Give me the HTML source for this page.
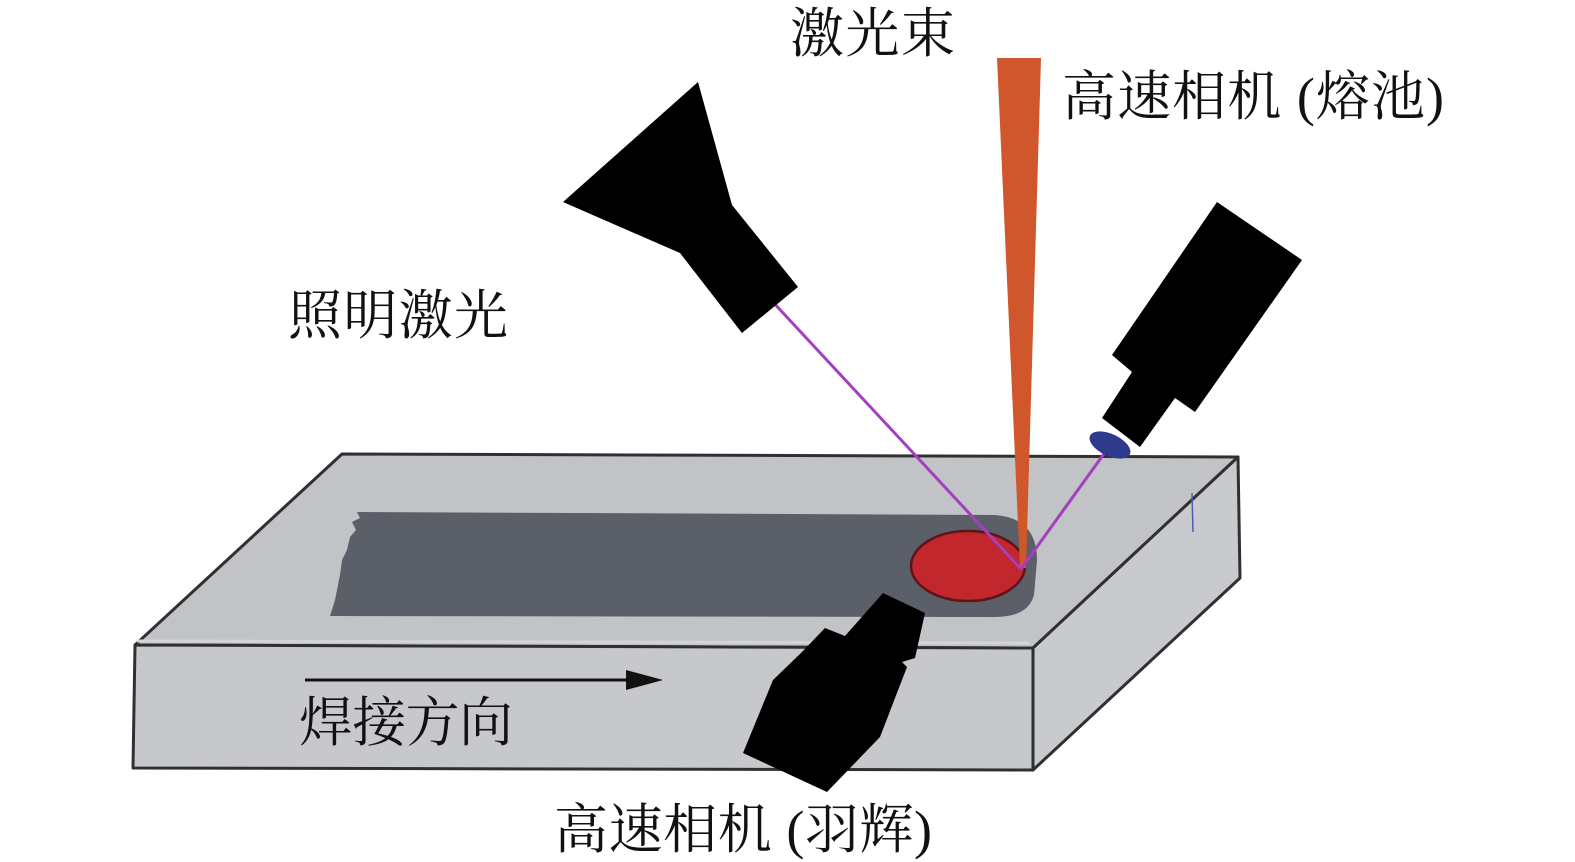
<!DOCTYPE html>
<html>
<head>
<meta charset="utf-8">
<style>
html,body{margin:0;padding:0;background:#fff;}
svg{display:block;}
text{font-family:"Liberation Serif","Noto Serif CJK SC",serif;fill:#111;}
</style>
</head>
<body>
<svg width="1575" height="862" viewBox="0 0 1575 862" xmlns="http://www.w3.org/2000/svg">
  <!-- Plate -->
  <polygon points="342,454 1238,457 1033,648 135,645" fill="#c2c3c6" stroke="#2f3032" stroke-width="3" stroke-linejoin="round"/>
  <polygon points="135,645 1033,648 1033,770 133,768" fill="#c7c8cb" stroke="#2f3032" stroke-width="3" stroke-linejoin="round"/>
  <polygon points="1033,648 1238,457 1240,578 1033,770" fill="#c9cacd" stroke="#2f3032" stroke-width="3" stroke-linejoin="round"/>
  <line x1="137" y1="641" x2="1030" y2="643" stroke="#d3d4d6" stroke-width="3"/>

  <!-- weld track -->
  <path d="M357,512 L995,515 Q1037,518 1037,560 L1034,595 Q1028,617 995,617 L330,616 L335,600 L340,575 L342,560 L347,550 L350,537 L356,530 L352,522 L360,518 Z" fill="#5b5f68"/>

  <!-- melt pool -->
  <ellipse cx="968" cy="566" rx="57" ry="35" fill="#c1272d" stroke="#5e1418" stroke-width="2.5"/>

  <!-- blue mark on plate -->
  <line x1="1192" y1="493" x2="1193" y2="532" stroke="#4a5fb0" stroke-width="1.5"/>

  <!-- laser beam -->
  <polygon points="997,58 1041,58 1026,568 1020,568" fill="#d0562b"/>

  <!-- purple illumination lines -->
  <line x1="771" y1="300" x2="1021" y2="569" stroke="#a43fc0" stroke-width="3"/>
  <line x1="1021" y1="569" x2="1106" y2="451" stroke="#a43fc0" stroke-width="3"/>

  <!-- illumination laser -->
  <polygon points="698,82 732,205 798,287 742,333 680,253 563,202" fill="#000"/>

  <!-- right camera -->
  <polygon points="1217,202 1302,260 1195,412 1175,398 1140,447 1102,418 1132,372 1112,355" fill="#000"/>
  <ellipse cx="1110" cy="445" rx="22" ry="11" transform="rotate(25 1110 445)" fill="#2e3a8c"/>

  <!-- bottom camera -->
  <polygon points="883,593 925,613 915,658 902,662 907,667 880,737 827,792 743,753 773,680 802,652 825,628 845,636" fill="#000"/>

  <!-- welding direction arrow -->
  <line x1="305" y1="680" x2="630" y2="680" stroke="#111" stroke-width="3"/>
  <polygon points="626,670 663,680 626,690" fill="#111"/>

  <!-- labels -->
  <text x="790" y="52" font-size="54" textLength="165">激光束</text>
  <text x="1062" y="115" font-size="54" textLength="382">高速相机 (熔池)</text>
  <text x="288" y="334" font-size="54" textLength="220">照明激光</text>
  <text x="299" y="741" font-size="54" textLength="214">焊接方向</text>
  <text x="554" y="848" font-size="54" textLength="378">高速相机 (羽辉)</text>
</svg>
</body>
</html>
